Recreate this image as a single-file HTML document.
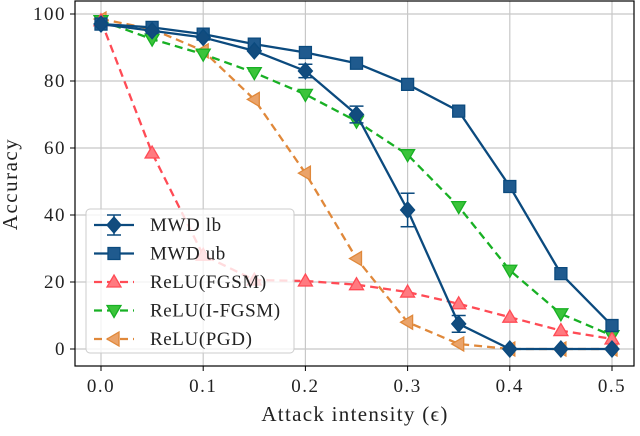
<!DOCTYPE html>
<html><head><meta charset="utf-8"><style>
body{margin:0;background:#fff}
svg text{font-family:"Liberation Serif","DejaVu Serif",serif;fill:#222}
</style></head><body>
<svg id="c" width="640" height="431" xmlns="http://www.w3.org/2000/svg"></svg>
<script>
const xs=[0,0.05,0.1,0.15,0.2,0.25,0.3,0.35,0.4,0.45,0.5];
const mwdLb=[97,95,93,89,83,70,41.5,7.5,0,0,0];
const mwdLbErr=[0.5,0.5,0.5,0.8,2,2.5,5,2.5,0,0,0];
const mwdUb=[97,96,94,91,88.5,85.3,79,71,48.5,22.5,7];
const fgsm=[98,58.5,28,20.6,20.3,19.2,17,13.5,9.5,5.5,3];
const ifgsm=[98,92.5,88,82.5,76,68,58,42.5,23.5,10.5,4];
const pgd=[98.5,95.5,89,74.5,52.5,27,8,1.5,0,0,0];
const xTicks=[0,0.1,0.2,0.3,0.4,0.5];
const yTicks=[0,20,40,60,80,100];
const NS="http://www.w3.org/2000/svg",svg=document.getElementById('c');
const X=v=>101+v*1022, Y=v=>349-v*3.35;
function el(t,a,p){const e=document.createElementNS(NS,t);for(const k in a)e.setAttribute(k,a[k]);(p||svg).appendChild(e);return e;}
xTicks.forEach(t=>{const l=el('line',{x1:X(t),x2:X(t),y1:1,y2:366,stroke:'#c8c8c8','stroke-width':1.2});


const tx=el('text',{x:X(t),y:392,'text-anchor':'middle','font-size':19,'letter-spacing':1.5});tx.textContent=t.toFixed(1);


el('line',{x1:X(t),x2:X(t),y1:366,y2:371,stroke:'#000'});});
yTicks.forEach(t=>{const l=el('line',{x1:75,x2:634,y1:Y(t),y2:Y(t),stroke:'#c8c8c8','stroke-width':1.2});


const tx=el('text',{x:66,y:Y(t)+6,'text-anchor':'end','font-size':19,'letter-spacing':1.5});tx.textContent=t;


el('line',{x1:70,x2:75,y1:Y(t),y2:Y(t),stroke:'#000'});});
const fr=el('rect',{x:75,y:1,width:559,height:365,fill:'none',stroke:'#000','stroke-width':1.2});


let t=el('text',{x:355,y:421,'text-anchor':'middle','font-size':21,'letter-spacing':1.3});t.textContent='Attack intensity (ϵ)';


t=el('text',{x:0,y:0,'text-anchor':'middle','font-size':21,'letter-spacing':1.5,transform:'translate(17,184) rotate(-90)'});t.textContent='Accuracy';


function marker(g,type,x,y,col,face){let d;
if(type==='d')d=`M${x},${y-8}L${x+7},${y}L${x},${y+8}L${x-7},${y}Z`;
else if(type==='s')d=`M${x-6},${y-6}h12v12h-12Z`;
else if(type==='^')d=`M${x},${y-7}L${x+7},${y+5}L${x-7},${y+5}Z`;
else if(type==='v')d=`M${x},${y+7}L${x+7},${y-5}L${x-7},${y-5}Z`;
else d=`M${x-7},${y}L${x+5},${y-7}L${x+5},${y+7}Z`;
const m=el('path',{d,fill:face,stroke:col,'stroke-width':1.3},g);

}
const series=[
{n:'mwd-lb',d:mwdLb,c:'#0b4a7e',f:'#124c7e',m:'d',dash:null,err:mwdLbErr},
{n:'mwd-ub',d:mwdUb,c:'#0b4a7e',f:'#1f5a8e',m:'s',dash:null},
{n:'relu-fgsm',d:fgsm,c:'#ff4b55',f:'#ff7a80',m:'^',dash:'8,5'},
{n:'relu-ifgsm',d:ifgsm,c:'#18b024',f:'#3bc43a',m:'v',dash:'8,5'},
{n:'relu-pgd',d:pgd,c:'#e0883a',f:'#eaa36a',m:'<',dash:'8,5'}];
series.slice().reverse().forEach(s=>{const g=el('g',{});


el('polyline',{points:xs.map((x,i)=>X(x)+','+Y(s.d[i])).join(' '),fill:'none',stroke:s.c,'stroke-width':2.3,'stroke-dasharray':s.dash||'none'},g);
if(s.err)xs.forEach((x,i)=>{const e=s.err[i];if(e<1.5)return;const cx=X(x);
el('line',{x1:cx,x2:cx,y1:Y(s.d[i]+e),y2:Y(s.d[i]-e),stroke:s.c,'stroke-width':1.5},g);
el('line',{x1:cx-7,x2:cx+7,y1:Y(s.d[i]+e),y2:Y(s.d[i]+e),stroke:s.c,'stroke-width':1.5},g);
el('line',{x1:cx-7,x2:cx+7,y1:Y(s.d[i]-e),y2:Y(s.d[i]-e),stroke:s.c,'stroke-width':1.5},g);});
xs.forEach((x,i)=>marker(g,s.m,X(x),Y(s.d[i]),s.c,s.f));});
const lg=el('g',{});


el('rect',{x:86,y:209,width:208,height:144,rx:4,fill:'rgba(255,255,255,0.8)',stroke:'#ccc'},lg);
const labels=['MWD lb','MWD ub','ReLU(FGSM)','ReLU(I-FGSM)','ReLU(PGD)'];
series.forEach((s,i)=>{const y=225+i*28.5;
el('line',{x1:94,x2:134,y1:y,y2:y,stroke:s.c,'stroke-width':2.3,'stroke-dasharray':s.dash||'none'},lg);
if(s.err){el('line',{x1:114,x2:114,y1:y-10,y2:y+10,stroke:s.c,'stroke-width':1.5},lg);
el('line',{x1:107,x2:121,y1:y-10,y2:y-10,stroke:s.c,'stroke-width':1.5},lg);
el('line',{x1:107,x2:121,y1:y+10,y2:y+10,stroke:s.c,'stroke-width':1.5},lg);}
marker(lg,s.m,114,y,s.c,s.f);
const tx=el('text',{x:150,y:y+6,'font-size':19,'letter-spacing':0.6},lg);tx.textContent=labels[i];

});
</script>
</body></html>
